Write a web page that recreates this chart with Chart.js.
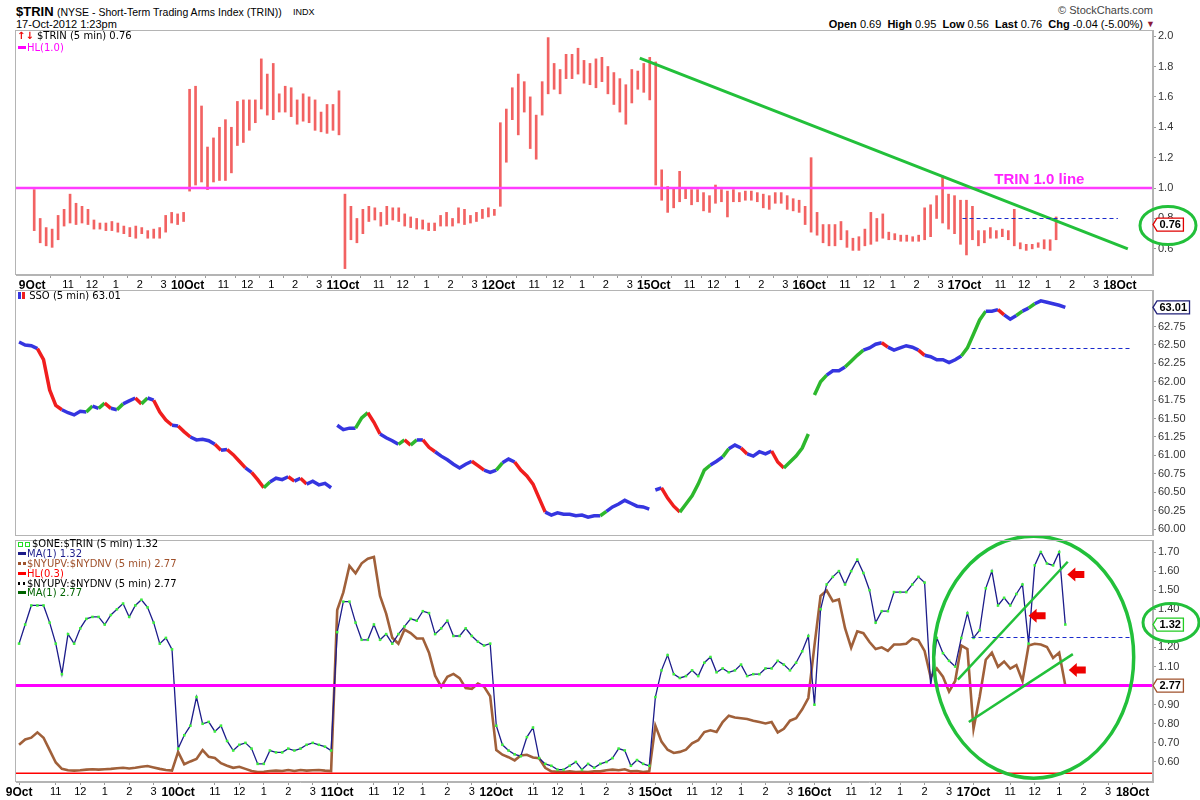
<!DOCTYPE html>
<html>
<head>
<meta charset="utf-8">
<title>$TRIN</title>
<script src="https://cdn.jsdelivr.net/npm/chart.js@4.4.1/dist/chart.umd.min.js"></script>
<style>
  body { margin: 0; background: #fff; }
  #page { position: relative; width: 1200px; height: 800px; overflow: hidden; font-family: "Liberation Sans", Arial, sans-serif; color: #000; }
  #page canvas { position: absolute; left: 0; }
  .txt { position: absolute; white-space: nowrap; line-height: 1; }
  .leg { position: absolute; white-space: nowrap; font-family: "DejaVu Sans", Verdana, sans-serif; font-size: 10px; line-height: 10px; }
  .ico { display: inline-block; width: 8px; height: 3px; vertical-align: middle; margin-right: 1px; position: relative; top: -1px; }
  .sq { display: inline-block; width: 3px; height: 3px; border: 1px solid #22dd22; margin-right: 2px; vertical-align: middle; }
</style>
</head>
<body>
<div id="page">
  <canvas id="trinChart" width="1200" height="267" style="top:30px"></canvas>
  <canvas id="ssoChart" width="1200" height="246" style="top:290px"></canvas>
  <canvas id="ratioChart" width="1200" height="268" style="top:536px"></canvas>

  <!-- header -->
  <div class="txt" style="left:16px;top:5px;font-size:13px;font-weight:bold;">$TRIN</div>
  <div class="txt" style="left:57px;top:7px;font-size:10.5px;">(NYSE - Short-Term Trading Arms Index (TRIN))</div>
  <div class="txt" style="left:293px;top:8px;font-size:9px;">INDX</div>
  <div class="txt" style="left:16px;top:19px;font-size:11px;">17-Oct-2012 1:23pm</div>
  <div class="txt" style="right:47px;top:5px;font-size:11px;color:#444;">© StockCharts.com</div>
  <div class="txt" style="right:57px;top:19px;font-size:11px;"><b>Open</b> 0.69&nbsp; <b>High</b> 0.95&nbsp; <b>Low</b> 0.56&nbsp; <b>Last</b> 0.76&nbsp; <b>Chg</b> -0.04 (-5.00%)</div>
  <div class="txt" style="left:1146px;top:20px;font-size:9px;color:#8b1a3a;">▼</div>

  <!-- panel legends -->
  <div class="leg" style="left:17px;top:31px;"><span style="color:#e00;font-weight:bold;">↑↓</span> $TRIN (5 min) 0.76</div>
  <div class="leg" style="left:18px;top:43px;color:#ff00ff;"><span class="ico" style="background:#ff00ff"></span>HL(1.0)</div>
  <div class="leg" style="left:18px;top:291px;"><span class="ico" style="width:3px;height:7px;background:#3535e0;margin-right:1px"></span><span class="ico" style="width:3px;height:7px;background:#f01e1e"></span> SSO (5 min) 63.01</div>

  <div class="leg" style="left:18px;top:539px;"><span class="sq"></span><span class="sq"></span>$ONE:$TRIN (5 min) 1.32</div>
  <div class="leg" style="left:18px;top:549px;color:#1c1c8a;"><span class="ico" style="background:#1c1c8a"></span>MA(1) 1.32</div>
  <div class="leg" style="left:18px;top:559px;color:#a0522d;"><span class="ico" style="background:repeating-linear-gradient(90deg,#a0522d 0 3px,transparent 3px 5px)"></span>$NYUPV:$NYDNV (5 min) 2.77</div>
  <div class="leg" style="left:18px;top:569px;color:#ff0000;"><span class="ico" style="background:#ff0000"></span>HL(0.3)</div>
  <div class="leg" style="left:18px;top:579px;"><span class="ico" style="background:repeating-linear-gradient(90deg,#000 0 2px,transparent 2px 5px)"></span>$NYUPV:$NYDNV (5 min) 2.77</div>
  <div class="leg" style="left:18px;top:588px;color:#006400;"><span class="ico" style="background:#006400"></span>MA(1) 2.77</div>
</div>

<script>
// ---- time axis: 5-min bars, 78 per session, one value per 15 minutes ----
const days = ['9Oct', '10Oct', '11Oct', '12Oct', '15Oct', '16Oct', '17Oct', '18Oct'];
const hourLabels = ['11', '12', '1', '2', '3'];
const hourBars = [18, 30, 42, 54, 66];          // bars after the 9:30 open
const BARS_PER_DAY = 78;
const BARS_PER_SAMPLE = 3;
const SAMPLES_PER_DAY = 26;

// ---- axis tick labels ----
const trinTicks = [0.6, 0.8, 1.0, 1.2, 1.4, 1.6, 1.8, 2.0];
const ssoTicks = [60.00, 60.25, 60.50, 60.75, 61.00, 61.25, 61.50, 61.75, 62.00, 62.25, 62.50, 62.75];
const ratioTicks = [0.60, 0.70, 0.80, 0.90, 1.00, 1.10, 1.20, 1.30, 1.40, 1.50, 1.60, 1.70];

// ---- $TRIN 15-min high / low ----
const trinHigh = [
  0.99,0.80,0.74,0.73,0.82,0.86,0.96,0.90,0.88,0.86,0.79,0.77,0.77,0.78,0.77,0.75,0.74,0.75,0.74,0.72,0.73,0.74,0.82,0.84,0.83,0.84, // 9Oct
  1.65,1.67,1.54,1.27,1.33,1.40,1.45,1.40,1.57,1.58,1.58,1.58,1.85,1.75,1.82,1.62,1.67,1.66,1.58,1.62,1.60,1.58,1.50,1.55,1.55,1.64, // 10Oct
  0.96,0.88,0.80,0.86,0.88,0.87,0.84,0.88,0.87,0.87,0.83,0.81,0.80,0.79,0.77,0.77,0.82,0.84,0.80,0.87,0.86,0.82,0.84,0.86,0.87,0.86, // 11Oct
  1.43,1.52,1.66,1.75,1.70,1.60,1.48,1.70,1.99,1.82,1.78,1.88,1.88,1.92,1.84,1.82,1.85,1.86,1.80,1.76,1.72,1.68,1.78,1.77,1.82,1.86, // 12Oct
  1.83,1.12,1.01,1.00,1.11,1.00,0.99,0.99,0.97,0.95,1.02,0.99,0.98,0.99,0.97,0.98,0.98,0.97,0.96,0.95,0.97,0.97,0.95,0.93,0.92,0.88, // 15Oct
  1.20,0.84,0.76,0.76,0.76,0.78,0.72,0.67,0.68,0.73,0.84,0.80,0.83,0.71,0.70,0.69,0.69,0.68,0.69,0.87,0.89,0.95,1.08,0.96,0.95,0.92, // 16Oct
  0.92,0.88,0.72,0.72,0.74,0.72,0.73,0.72,0.86,0.64,0.63,0.63,0.64,0.66,0.66,0.81                                                   // 17Oct
];
const trinLow = [
  0.72,0.64,0.62,0.61,0.66,0.75,0.77,0.76,0.77,0.76,0.73,0.73,0.72,0.72,0.71,0.70,0.68,0.67,0.70,0.67,0.67,0.67,0.71,0.77,0.76,0.78,
  0.98,1.02,1.04,0.99,1.04,1.05,1.05,1.10,1.28,1.30,1.38,1.43,1.52,1.48,1.45,1.50,1.50,1.47,1.42,1.44,1.43,1.38,1.37,1.36,1.38,1.35,
  0.47,0.66,0.64,0.70,0.78,0.79,0.75,0.76,0.79,0.78,0.75,0.74,0.73,0.73,0.72,0.72,0.75,0.75,0.75,0.77,0.76,0.77,0.78,0.80,0.81,0.82,
  0.88,1.17,1.45,1.35,1.50,1.26,1.19,1.48,1.62,1.65,1.62,1.72,1.72,1.75,1.69,1.68,1.66,1.70,1.62,1.55,1.50,1.42,1.56,1.65,1.63,1.58,
  1.02,0.92,0.84,0.87,0.91,0.93,0.89,0.91,0.85,0.84,0.90,0.91,0.81,0.91,0.91,0.92,0.92,0.91,0.87,0.86,0.90,0.90,0.86,0.85,0.84,0.76,
  0.71,0.69,0.64,0.62,0.62,0.66,0.61,0.59,0.59,0.62,0.63,0.65,0.67,0.66,0.66,0.65,0.65,0.65,0.65,0.66,0.68,0.80,0.77,0.73,0.70,0.63,
  0.56,0.66,0.62,0.64,0.67,0.67,0.68,0.66,0.62,0.60,0.59,0.60,0.61,0.60,0.59,0.66
];

// ---- SSO 15-min close ----
const ssoClose = [
  62.54,62.50,62.49,62.45,62.30,61.89,61.68,61.62,61.58,61.55,61.60,61.59,61.67,61.64,61.71,61.64,61.62,61.70,61.74,61.78,61.70,61.78,61.75,61.59,61.48,61.41,
  61.40,61.32,61.25,61.21,61.22,61.20,61.15,61.07,61.08,61.01,60.92,60.83,60.77,60.67,60.56,60.64,60.69,60.67,60.71,60.65,60.69,60.61,60.65,60.60,60.62,60.56,
  61.41,61.35,61.37,61.37,61.51,61.58,61.45,61.29,61.24,61.20,61.15,61.21,61.14,61.21,61.21,61.11,61.05,60.99,60.94,60.88,60.83,60.88,60.92,60.86,60.80,60.77,
  60.80,60.90,60.95,60.91,60.80,60.72,60.61,60.42,60.23,60.19,60.22,60.20,60.20,60.18,60.19,60.16,60.18,60.18,60.24,60.30,60.34,60.39,60.35,60.31,60.30,60.27,
  60.53,60.56,60.42,60.31,60.23,60.34,60.45,60.61,60.80,60.87,60.92,60.98,61.09,61.14,61.10,61.02,60.99,61.05,61.02,61.06,60.91,60.83,60.91,60.99,61.10,61.29,
  61.82,62.00,62.09,62.15,62.15,62.20,62.28,62.36,62.43,62.46,62.51,62.53,62.47,62.43,62.46,62.49,62.47,62.43,62.36,62.34,62.30,62.30,62.26,62.30,62.35,62.46,
  62.65,62.84,62.96,62.96,62.98,62.91,62.85,62.90,62.96,63.00,63.06,63.10,63.08,63.06,63.04,63.01
];

// ---- $ONE:$TRIN 15-min ----
const oneTrin = [
  1.22,1.32,1.42,1.42,1.42,1.33,1.22,1.06,1.27,1.22,1.30,1.35,1.36,1.36,1.32,1.37,1.40,1.43,1.36,1.42,1.45,1.41,1.33,1.22,1.25,1.19,
  0.67,0.74,0.79,0.94,0.80,0.81,0.76,0.79,0.71,0.66,0.69,0.70,0.67,0.59,0.59,0.66,0.65,0.65,0.67,0.66,0.67,0.69,0.70,0.69,0.68,0.66,
  1.28,1.44,1.44,1.33,1.24,1.24,1.32,1.24,1.27,1.22,1.27,1.31,1.35,1.34,1.39,1.38,1.27,1.30,1.34,1.26,1.26,1.30,1.26,1.23,1.21,1.22,
  0.79,0.69,0.66,0.64,0.63,0.73,0.78,0.62,0.59,0.58,0.56,0.56,0.58,0.60,0.56,0.59,0.57,0.59,0.60,0.62,0.67,0.66,0.58,0.61,0.59,0.58,
  0.94,1.08,1.16,1.06,1.04,1.05,1.08,1.05,1.12,1.15,1.07,1.09,1.07,1.08,1.11,1.05,1.06,1.06,1.09,1.09,1.13,1.11,1.08,1.12,1.18,1.26,
  0.90,1.40,1.53,1.57,1.60,1.53,1.60,1.66,1.59,1.50,1.33,1.39,1.39,1.49,1.49,1.49,1.53,1.57,1.54,1.00,1.25,1.17,1.13,1.10,1.25,1.38,
  1.25,1.29,1.51,1.60,1.42,1.46,1.42,1.48,1.53,1.22,1.63,1.70,1.64,1.63,1.70,1.32
];

// ---- $NYUPV:$NYDNV 15-min ----
const upDnVol = [
  1.10,1.25,1.30,1.45,1.30,0.95,0.60,0.42,0.38,0.37,0.38,0.40,0.41,0.40,0.41,0.42,0.44,0.45,0.43,0.45,0.48,0.50,0.46,0.42,0.39,0.37,
  0.90,0.55,0.63,0.70,0.95,0.76,0.73,0.58,0.51,0.45,0.48,0.42,0.36,0.33,0.34,0.36,0.37,0.36,0.39,0.36,0.39,0.37,0.38,0.39,0.37,0.36,
  4.90,5.40,6.15,5.94,6.22,6.35,6.40,5.30,4.80,4.12,3.95,4.35,4.25,4.10,4.10,3.70,3.05,2.74,3.02,3.10,2.98,2.70,2.68,2.83,2.74,2.47,
  0.95,0.82,0.75,0.66,0.80,0.82,0.74,0.72,0.45,0.35,0.34,0.33,0.35,0.33,0.34,0.33,0.35,0.35,0.38,0.40,0.38,0.41,0.35,0.36,0.33,0.35,
  1.64,1.19,0.96,0.87,0.90,0.96,1.14,1.23,1.46,1.51,1.46,1.74,1.92,1.87,1.85,1.83,1.78,1.74,1.70,1.74,1.45,1.55,1.78,1.85,2.10,2.42,
  3.90,5.30,5.45,5.15,5.20,4.39,3.84,4.30,4.25,4.00,3.80,3.85,3.75,3.93,3.93,3.95,4.10,4.05,3.75,3.00,3.25,3.02,2.60,2.90,3.90,3.80,
  1.55,2.45,3.50,3.70,3.30,3.45,3.25,3.35,2.90,3.90,3.95,3.93,3.86,3.55,3.70,2.77
];

const trinLast = 0.76, ssoLast = 63.01, oneTrinLast = 1.32, upDnLast = 2.77;
const trinHL = 1.0, volHL = 0.3, ratioLevel = 1.0;

// ---- layout ----
const X_MIN = -1.5, X_MAX = 556;
const FONT = '"Liberation Sans", Arial, sans-serif';
const GREEN = '#22c03a';
const FRAME = '#b4b4b4';

Chart.defaults.font.family = FONT;
Chart.defaults.animation = false;

function xOf(i) {
  return Math.floor(i / SAMPLES_PER_DAY) * BARS_PER_DAY + (i % SAMPLES_PER_DAY) * BARS_PER_SAMPLE;
}

const xTicks = [];
days.forEach((d, di) => {
  xTicks.push({ v: di * BARS_PER_DAY, label: d, day: true });
  if (di < days.length - 1) {
    hourBars.forEach((h, hi) => xTicks.push({ v: di * BARS_PER_DAY + h, label: hourLabels[hi], day: false }));
  }
});

function xAxis(show) {
  return {
    type: 'linear', min: X_MIN, max: X_MAX, display: show,
    afterBuildTicks: s => { s.ticks = xTicks.map(t => ({ value: t.v })); },
    afterFit: s => {
      s.height = show ? 22 : 0;
      s.paddingLeft = 0; s.paddingRight = 0;
    },
    ticks: {
      autoSkip: false, maxRotation: 0, padding: 0, color: '#000',
      callback: (v, i) => xTicks[i] ? xTicks[i].label : '',
      font: c => (xTicks[c.index] && xTicks[c.index].day) ? { size: 12, weight: 'bold' } : { size: 11 }
    },
    grid: { drawOnChartArea: false, tickLength: 3, color: '#9a9a9a' },
    border: { display: true, color: FRAME }
  };
}

function yAxis(min, max, ticks, dec) {
  return {
    type: 'linear', position: 'right', min, max,
    afterBuildTicks: s => { s.ticks = ticks.map(v => ({ value: v })); },
    afterFit: s => { s.width = 47; s.paddingTop = 0; s.paddingBottom = 0; },
    ticks: { padding: 2, color: '#333', font: { size: 11 }, callback: v => Number(v).toFixed(dec) },
    grid: { drawOnChartArea: false, tickLength: 3, color: '#9a9a9a' },
    border: { display: true, color: FRAME }
  };
}

function baseOptions(scales) {
  return {
    responsive: false, devicePixelRatio: 1, animation: false,
    layout: { padding: { left: 16, right: 0, top: 0, bottom: 0 } },
    plugins: { legend: { display: false }, tooltip: { enabled: false } },
    scales
  };
}

// ---- drawing helpers for the hand-drawn marks ----
function seg(ctx, x1, y1, x2, y2) {
  ctx.beginPath(); ctx.moveTo(x1, y1); ctx.lineTo(x2, y2); ctx.stroke();
}
function frame(chart) {
  const { ctx, chartArea: a } = chart;
  ctx.save();
  ctx.strokeStyle = FRAME; ctx.lineWidth = 1;
  ctx.strokeRect(a.left - 0.5, a.top + 0.5, a.right - a.left, a.bottom - a.top - 1);
  ctx.restore();
}
function valueBox(ctx, x, y, text, color) {
  ctx.save();
  ctx.font = 'bold 11px ' + FONT;
  const w = ctx.measureText(text).width + 5, h = 13;
  ctx.beginPath();
  ctx.moveTo(x, y); ctx.lineTo(x + 4, y - h / 2); ctx.lineTo(x + 4 + w, y - h / 2);
  ctx.lineTo(x + 4 + w, y + h / 2); ctx.lineTo(x + 4, y + h / 2); ctx.closePath();
  ctx.fillStyle = '#fff'; ctx.fill();
  ctx.strokeStyle = color; ctx.lineWidth = 1.3; ctx.stroke();
  ctx.fillStyle = '#000'; ctx.textBaseline = 'middle';
  ctx.fillText(text, x + 6.5, y + 0.5);
  ctx.restore();
}
function ring(ctx, cx, cy, rx, ry, lw) {
  ctx.save();
  ctx.strokeStyle = GREEN; ctx.lineWidth = lw;
  ctx.beginPath(); ctx.ellipse(cx, cy, rx, ry, 0, 0, Math.PI * 2); ctx.stroke();
  ctx.restore();
}
function leftArrow(ctx, x, y) {
  ctx.save();
  ctx.fillStyle = '#ee0000';
  ctx.beginPath();
  ctx.moveTo(x, y); ctx.lineTo(x + 8, y - 7); ctx.lineTo(x + 8, y - 3.5); ctx.lineTo(x + 17, y - 3.5);
  ctx.lineTo(x + 17, y + 3.5); ctx.lineTo(x + 8, y + 3.5); ctx.lineTo(x + 8, y + 7); ctx.closePath();
  ctx.fill();
  ctx.restore();
}
function dashed(ctx, x1, x2, y) {
  ctx.save();
  ctx.strokeStyle = '#1a2acc'; ctx.lineWidth = 1; ctx.setLineDash([4, 3]);
  seg(ctx, x1, Math.round(y) + 0.5, x2, Math.round(y) + 0.5);
  ctx.restore();
}

// ---- top panel: $TRIN ----
const trinDecor = {
  id: 'trinDecor',
  afterDatasetsDraw(chart) {
    const { ctx, chartArea: a, scales: { x, y } } = chart;
    ctx.save();
    ctx.strokeStyle = '#ff3cff'; ctx.lineWidth = 2.5;
    seg(ctx, a.left, y.getPixelForValue(trinHL), a.right, y.getPixelForValue(trinHL));
    ctx.strokeStyle = GREEN; ctx.lineWidth = 3;
    seg(ctx, x.getPixelForValue(305), y.getPixelForValue(1.855), x.getPixelForValue(550), y.getPixelForValue(0.60));
    dashed(ctx, x.getPixelForValue(467), x.getPixelForValue(545), y.getPixelForValue(0.8));
    ctx.fillStyle = '#ff22ff'; ctx.font = 'bold 15px ' + FONT; ctx.textBaseline = 'middle';
    ctx.fillText('TRIN 1.0 line', x.getPixelForValue(483), y.getPixelForValue(1.053));
    ctx.restore();
  },
  afterDraw(chart) {
    const { ctx, scales: { y } } = chart;
    frame(chart);
    const ly = y.getPixelForValue(trinLast);
    valueBox(ctx, 1153, ly, trinLast.toFixed(2), '#e00000');
    ring(ctx, 1168, ly + 1, 28, 19, 3);
  }
};

new Chart(document.getElementById('trinChart'), {
  type: 'bar',
  data: {
    datasets: [{
      data: trinHigh.map((h, i) => ({ x: xOf(i) + 1, y: [trinLow[i], h] })),
      backgroundColor: '#f26262', barThickness: 2, grouped: false
    }]
  },
  options: baseOptions({ x: xAxis(true), y: yAxis(0.428, 2.04, trinTicks, 1) }),
  plugins: [trinDecor]
});

// ---- middle panel: SSO ----
function ssoColor(c) {
  const a = c.p0.parsed.y, b = c.p1.parsed.y;
  if (c.p1DataIndex % SAMPLES_PER_DAY === 0 && Math.abs(b - a) > 0.2) return 'rgba(0,0,0,0)';
  if (b - a > 0.06) return '#2db82d';
  if (b - a < -0.06) return '#f01e1e';
  return '#3535e0';
}

const ssoDecor = {
  id: 'ssoDecor',
  afterDatasetsDraw(chart) {
    const { ctx, scales: { x, y } } = chart;
    dashed(ctx, x.getPixelForValue(467), x.getPixelForValue(545), y.getPixelForValue(62.46));
  },
  afterDraw(chart) {
    frame(chart);
    valueBox(chart.ctx, 1153, chart.scales.y.getPixelForValue(ssoLast), ssoLast.toFixed(2), '#22227a');
  }
};

new Chart(document.getElementById('ssoChart'), {
  type: 'line',
  data: {
    datasets: [{
      data: ssoClose.map((v, i) => ({ x: xOf(i), y: v })),
      borderColor: '#3535e0', borderWidth: 3.5, pointRadius: 0,
      segment: { borderColor: ssoColor }
    }]
  },
  options: baseOptions({ x: xAxis(false), y: yAxis(59.905, 63.247, ssoTicks, 2) }),
  plugins: [ssoDecor]
});

// ---- bottom panel: $ONE:$TRIN and up/down volume ----
const ratioDecor = {
  id: 'ratioDecor',
  afterDatasetsDraw(chart) {
    const { ctx, chartArea: a, scales: { x, y, yv } } = chart;
    ctx.save();
    ctx.strokeStyle = '#ff0000'; ctx.lineWidth = 1.5;
    seg(ctx, a.left, yv.getPixelForValue(volHL), a.right, yv.getPixelForValue(volHL));
    ctx.strokeStyle = '#ff00ff'; ctx.lineWidth = 3;
    seg(ctx, a.left, y.getPixelForValue(ratioLevel), a.right, y.getPixelForValue(ratioLevel));
    ctx.strokeStyle = GREEN; ctx.lineWidth = 2.5;
    seg(ctx, x.getPixelForValue(460.3), y.getPixelForValue(1.031), x.getPixelForValue(514.2), y.getPixelForValue(1.649));
    seg(ctx, x.getPixelForValue(465.7), y.getPixelForValue(0.809), x.getPixelForValue(516.7), y.getPixelForValue(1.165));
    ctx.restore();
    dashed(ctx, x.getPixelForValue(467), x.getPixelForValue(545), y.getPixelForValue(1.2526));
    ring(ctx, x.getPixelForValue(497.5), y.getPixelForValue(1.149), 100, 121, 3.5);
    leftArrow(ctx, x.getPixelForValue(514), y.getPixelForValue(1.582));
    leftArrow(ctx, x.getPixelForValue(495), y.getPixelForValue(1.366));
    leftArrow(ctx, x.getPixelForValue(514.7), y.getPixelForValue(1.082));
  },
  afterDraw(chart) {
    const { ctx, scales: { y, yv } } = chart;
    frame(chart);
    const ly = y.getPixelForValue(oneTrinLast);
    valueBox(ctx, 1153, ly, oneTrinLast.toFixed(2), '#22cc22');
    valueBox(ctx, 1153, yv.getPixelForValue(upDnLast), upDnLast.toFixed(2), '#a0522d');
    ring(ctx, 1171, ly - 2, 28, 19, 3);
  }
};

const ratioScales = {
  x: xAxis(true),
  y: yAxis(0.495, 1.763, ratioTicks, 2),
  yv: { type: 'linear', display: false, min: 0.05, max: 6.878 }
};

new Chart(document.getElementById('ratioChart'), {
  type: 'line',
  data: {
    datasets: [
      {
        data: oneTrin.map((v, i) => ({ x: xOf(i), y: v })), yAxisID: 'y',
        borderColor: '#1c1c8a', borderWidth: 1.3,
        pointStyle: 'rect', pointRadius: 1.8, pointBackgroundColor: '#3cf03c', pointBorderWidth: 0
      },
      {
        data: upDnVol.map((v, i) => ({ x: xOf(i), y: v })), yAxisID: 'yv',
        borderColor: '#a0603a', borderWidth: 2.6, pointRadius: 0
      }
    ]
  },
  options: baseOptions(ratioScales),
  plugins: [ratioDecor]
});
</script>
</body>
</html>
